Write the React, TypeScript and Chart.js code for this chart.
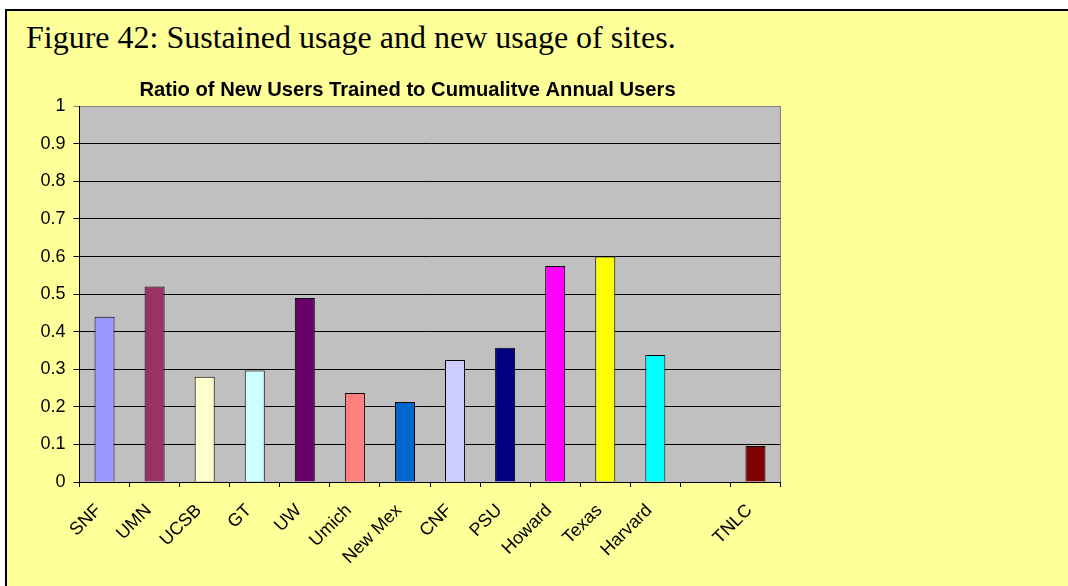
import React, { useEffect, useRef } from "react";
import { Chart, registerables } from "chart.js";

Chart.register(...registerables);

const categories = ["SNF", "UMN", "UCSB", "GT", "UW", "Umich", "New Mex", "CNF", "PSU", "Howard", "Texas", "Harvard", "", "TNLC"];
const ratios = [0.44, 0.52, 0.28, 0.297, 0.49, 0.237, 0.213, 0.325, 0.357, 0.575, 0.6, 0.338, null, 0.096];
const barColors = ["#9999FF", "#993366", "#FFFFCC", "#CCFFFF", "#660066", "#FF8080", "#0066CC", "#CCCCFF", "#000080", "#FF00FF", "#FFFF00", "#00FFFF", "#C0C0C0", "#800000"];
const yTicks = [0, 0.1, 0.2, 0.3, 0.4, 0.5, 0.6, 0.7, 0.8, 0.9, 1];

const caption = "Figure 42: Sustained usage and new usage of sites.";
const chartTitle = "Ratio of New Users Trained to Cumualitve Annual Users";

const FONT = "'Liberation Sans', Arial, sans-serif";

export default function App() {
  const ref = useRef<HTMLCanvasElement>(null);

  useEffect(() => {
    document.body.style.margin = "0";
    document.body.style.overflow = "hidden";
    if (!ref.current) return;
    const plotBg = {
      id: "plotBg",
      beforeDraw(chart: any) {
        const { ctx, chartArea: a } = chart;
        ctx.save();
        ctx.fillStyle = "#C0C0C0";
        ctx.fillRect(a.left, a.top, a.right - a.left, a.bottom - a.top);
        ctx.restore();
      },
      beforeDatasetsDraw(chart: any) {
        const { ctx, chartArea: a } = chart;
        ctx.save();
        ctx.strokeStyle = "#808080";
        ctx.lineWidth = 1;
        ctx.beginPath();
        ctx.moveTo(Math.round(a.left) + 0.5, Math.round(a.top) + 0.5);
        ctx.lineTo(Math.round(a.right) - 0.5, Math.round(a.top) + 0.5);
        ctx.lineTo(Math.round(a.right) - 0.5, Math.round(a.bottom));
        ctx.stroke();
        ctx.restore();
      },
    };
    const chart = new Chart(ref.current, {
      type: "bar",
      data: {
        labels: categories,
        datasets: [
          {
            data: ratios as any,
            backgroundColor: barColors,
            borderColor: "#000000",
            borderWidth: 1,
            barPercentage: 0.4,
            categoryPercentage: 1.0,
          },
        ],
      },
      options: {
        animation: false,
        responsive: false,
        devicePixelRatio: 1,
        layout: { padding: { top: 78, left: 34.5, right: 287.5, bottom: 0 } },
        plugins: {
          legend: { display: false },
          tooltip: { enabled: false },
          title: {
            display: true,
            text: chartTitle,
            color: "#000",
            font: { family: FONT, size: 20.2, weight: "bold" },
            padding: { top: 0, bottom: 4 },
          },
        },
        scales: {
          x: {
            afterFit(scale: any) {
              scale.height = 104;
            },
            grid: {
              offset: true,
              drawOnChartArea: false,
              drawTicks: true,
              tickLength: 5,
              color: "#000",
            },
            border: { color: "#000", width: 1 },
            ticks: {
              autoSkip: false,
              maxRotation: 45,
              minRotation: 45,
              color: "#000",
              padding: 13,
              labelOffset: -6,
              font: { family: FONT, size: 18 },
            },
          },
          y: {
            min: 0,
            max: 1,
            afterFit(scale: any) {
              scale.width = 45;
            },
            afterBuildTicks(scale: any) {
              scale.ticks = yTicks.map((v) => ({ value: v }));
            },
            grid: {
              color: (c: any) => (c.tick && c.tick.value === 1 ? "#808080" : "#000"),
              lineWidth: 1,
              drawTicks: true,
              tickLength: 6,
            },
            border: { color: "#000", width: 1 },
            ticks: {
              color: "#000",
              padding: 8,
              font: { family: FONT, size: 18 },
              callback: (v: any) => String(Math.round(Number(v) * 10) / 10),
            },
          },
        },
      },
      plugins: [plotBg],
    });
    return () => chart.destroy();
  }, []);

  return (
    <div style={{ position: "fixed", left: 0, top: 0, width: 1068, height: 586, background: "#fff", overflow: "hidden" }}>
      <div
        style={{
          position: "absolute",
          left: 5,
          top: 9,
          right: -20,
          bottom: -20,
          background: "#FFFF99",
          borderTop: "2px solid #000",
          borderLeft: "2px solid #000",
        }}
      />
      <div
        style={{
          position: "absolute",
          left: 26,
          top: 21,
          fontFamily: "'Liberation Serif', 'Times New Roman', serif",
          fontSize: 32,
          lineHeight: "32px",
          color: "#000",
          whiteSpace: "nowrap",
        }}
      >
        {caption}
      </div>
      <canvas ref={ref} width={1068} height={586} style={{ position: "absolute", left: 0, top: 0 }} />
    </div>
  );
}
